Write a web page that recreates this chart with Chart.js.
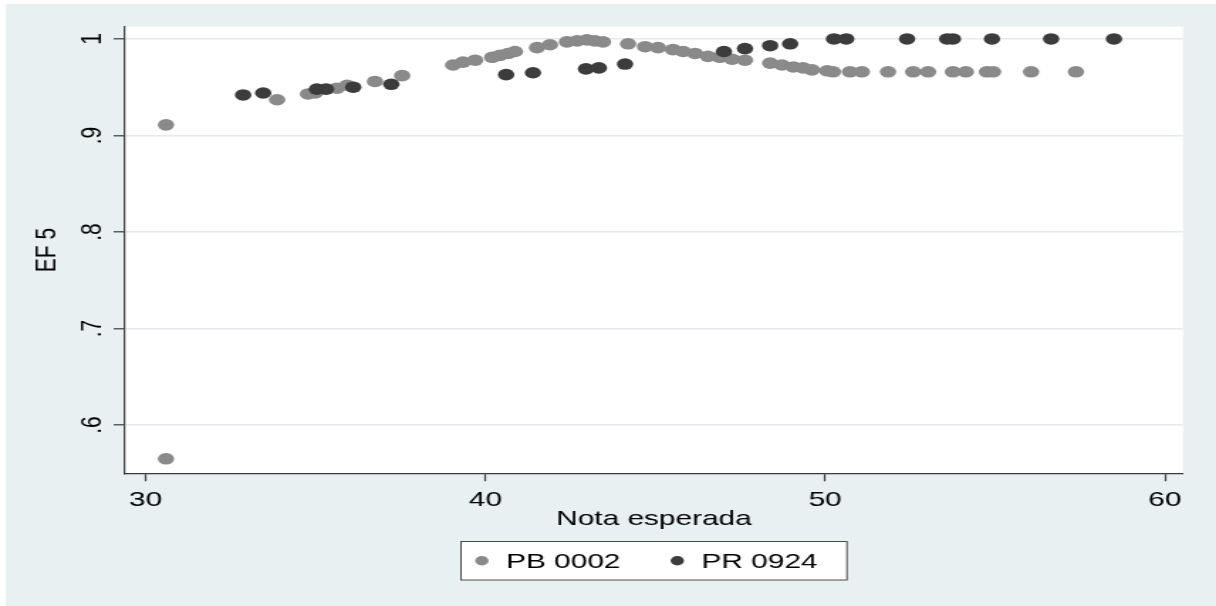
<!DOCTYPE html>
<html>
<head>
<meta charset="utf-8">
<script src="https://cdn.jsdelivr.net/npm/chart.js@4.4.1/dist/chart.umd.min.js"></script>
<style>
  html, body { margin: 0; padding: 0; background: #ffffff; overflow: hidden; }
  /* the original graph is stretched sideways, so draw narrow and stretch */
  #wrap { position: absolute; left: 0; top: 0; width: 856px; height: 606px; transform: scaleX(1.4206); transform-origin: 0 0; }
</style>
</head>
<body>
<div id="wrap"><canvas id="efChart" width="856" height="606"></canvas></div>
<script>
const seriesNames = ["PB 0002", "PR 0924"];

const pbX = [30.60, 30.60, 33.87, 34.78, 34.99, 35.63, 35.93, 36.75, 37.55, 39.05,
             39.34, 39.70, 40.20, 40.43, 40.67, 40.87, 41.52, 41.90, 42.40, 42.70,
             42.99, 43.22, 43.46, 44.20, 44.70, 45.08, 45.52, 45.82, 46.17, 46.55,
             46.90, 47.26, 47.64, 48.38, 48.73, 49.06, 49.35, 49.61, 50.06, 50.23,
             50.73, 51.08, 51.85, 52.59, 53.03, 53.76, 54.14, 54.76, 54.94, 56.06, 57.38];
const pbY = [0.911, 0.565, 0.937, 0.943, 0.944, 0.949, 0.952, 0.956, 0.962, 0.973,
             0.976, 0.978, 0.981, 0.983, 0.985, 0.987, 0.991, 0.994, 0.997, 0.998,
             0.999, 0.998, 0.997, 0.995, 0.992, 0.991, 0.989, 0.987, 0.985, 0.982,
             0.981, 0.979, 0.978, 0.975, 0.973, 0.971, 0.970, 0.968, 0.967, 0.966,
             0.966, 0.966, 0.966, 0.966, 0.966, 0.966, 0.966, 0.966, 0.966, 0.966, 0.966];

const prX = [32.87, 33.46, 35.04, 35.31, 36.11, 37.23, 40.61, 41.40, 42.96, 43.34,
             44.11, 47.02, 47.64, 48.38, 48.97, 50.26, 50.62, 52.41, 53.59, 53.76,
             54.91, 56.65, 58.50];
const prY = [0.942, 0.944, 0.948, 0.948, 0.950, 0.953, 0.963, 0.965, 0.969, 0.970,
             0.974, 0.987, 0.990, 0.993, 0.995, 1, 1, 1, 1, 1,
             1, 1, 1];

const xTicks = [30, 40, 50, 60];
const yTicks = [0.6, 0.7, 0.8, 0.9, 1];
const yTickLabels = [".6", ".7", ".8", ".9", "1"];
const xTitle = "Nota esperada";
const yTitle = "EF 5";

const FONT = '"Liberation Sans", Arial, sans-serif';
const bgColor = "#e8f0f2";
const gridColor = "#e3ebee";
const axisColor = "#3a3a3a";

Chart.defaults.font.family = FONT;
Chart.defaults.font.size = 21;
Chart.defaults.color = "#000000";

function toPoints(xs, ys) {
    return xs.map((x, i) => ({ x: x, y: ys[i] }));
}

// outer grey-blue background, white plot region and the boxed legend
const backdrop = {
    id: "backdrop",
    beforeDraw(chart) {
        const { ctx, chartArea: a, width, height } = chart;
        ctx.save();
        ctx.fillStyle = bgColor;
        ctx.fillRect(4.2, 4, width - 4.2, height - 4);
        ctx.fillStyle = "#ffffff";
        ctx.fillRect(a.left, a.top, a.right - a.left, a.bottom - a.top);
        ctx.restore();
    },
    afterDraw(chart) {
        const { ctx, chartArea: a } = chart;
        const sets = chart.data.datasets;
        ctx.save();
        ctx.font = "21px " + FONT;
        ctx.textBaseline = "middle";

        // legend
        const padL = 10, dotR = 4.7, dotToText = 17, itemGap = 40, padR = 16;
        const widths = sets.map(d => ctx.measureText(d.label).width);
        let total = padL + padR;
        widths.forEach((w, i) => { total += dotR + dotToText + w + (i > 0 ? itemGap : 0); });
        const boxLeft = (a.left + a.right) / 2 - total / 2;
        const boxTop = 541.5, boxH = 38.5, midY = boxTop + boxH / 2;
        ctx.fillStyle = "#ffffff";
        ctx.fillRect(boxLeft, boxTop, total, boxH);
        ctx.strokeStyle = "#4a4a4a";
        ctx.lineWidth = 1;
        ctx.strokeRect(boxLeft, boxTop, total, boxH);
        let cx = boxLeft + padL + dotR;
        sets.forEach((d, i) => {
            if (i > 0) cx += itemGap;
            ctx.fillStyle = d.backgroundColor;
            ctx.beginPath();
            ctx.arc(cx, midY, dotR, 0, Math.PI * 2);
            ctx.fill();
            ctx.fillStyle = "#000000";
            ctx.textAlign = "left";
            ctx.fillText(d.label, cx + dotToText, midY + 1);
            cx += dotToText + widths[i];
        });

        // vertical y tick labels, as Stata prints them
        const yScale = chart.scales.y;
        ctx.textAlign = "center";
        ctx.textBaseline = "alphabetic";
        yTicks.forEach((v, i) => {
            const py = yScale.getPixelForValue(v);
            ctx.save();
            ctx.translate(70.5, py);
            ctx.rotate(-Math.PI / 2);
            ctx.fillText(yTickLabels[i], 0, 0);
            ctx.restore();
        });
        ctx.restore();
    }
};

new Chart(document.getElementById("efChart"), {
    type: "scatter",
    data: {
        datasets: [
            {
                label: seriesNames[0],
                data: toPoints(pbX, pbY),
                backgroundColor: "#8a8a8a",
                borderColor: "#8a8a8a",
                borderWidth: 0,
                pointRadius: 5.8,
                order: 2
            },
            {
                label: seriesNames[1],
                data: toPoints(prX, prY),
                backgroundColor: "#3c3c3c",
                borderColor: "#3c3c3c",
                borderWidth: 0,
                pointRadius: 5.8,
                order: 1
            }
        ]
    },
    options: {
        responsive: false,
        animation: false,
        layout: { padding: { top: 26.7, bottom: 72.7, left: 0, right: 23.3 } },
        plugins: {
            legend: { display: false },
            tooltip: { enabled: false }
        },
        scales: {
            x: {
                type: "linear",
                min: 29.394,
                max: 60.53,
                afterBuildTicks: s => { s.ticks = xTicks.map(v => ({ value: v })); },
                afterFit: s => { s.height = 60; },
                ticks: { padding: 6, color: "#000000" },
                grid: { drawOnChartArea: false, tickLength: 8, tickColor: axisColor, tickWidth: 1.2 },
                border: { color: axisColor, width: 1.2 },
                title: { display: true, text: xTitle, padding: { top: 0, bottom: 1.4 } }
            },
            y: {
                type: "linear",
                min: 0.55,
                max: 1.0127,
                afterBuildTicks: s => { s.ticks = yTicks.map(v => ({ value: v })); },
                afterFit: s => { s.width = 88; },
                ticks: { display: false },
                grid: { color: gridColor, lineWidth: 1.6, tickLength: 8, tickColor: axisColor, tickWidth: 1.2 },
                border: { color: axisColor, width: 1.2 },
                title: { display: true, text: yTitle, padding: { top: 21, bottom: 0 } }
            }
        }
    },
    plugins: [backdrop]
});
</script>
</body>
</html>
